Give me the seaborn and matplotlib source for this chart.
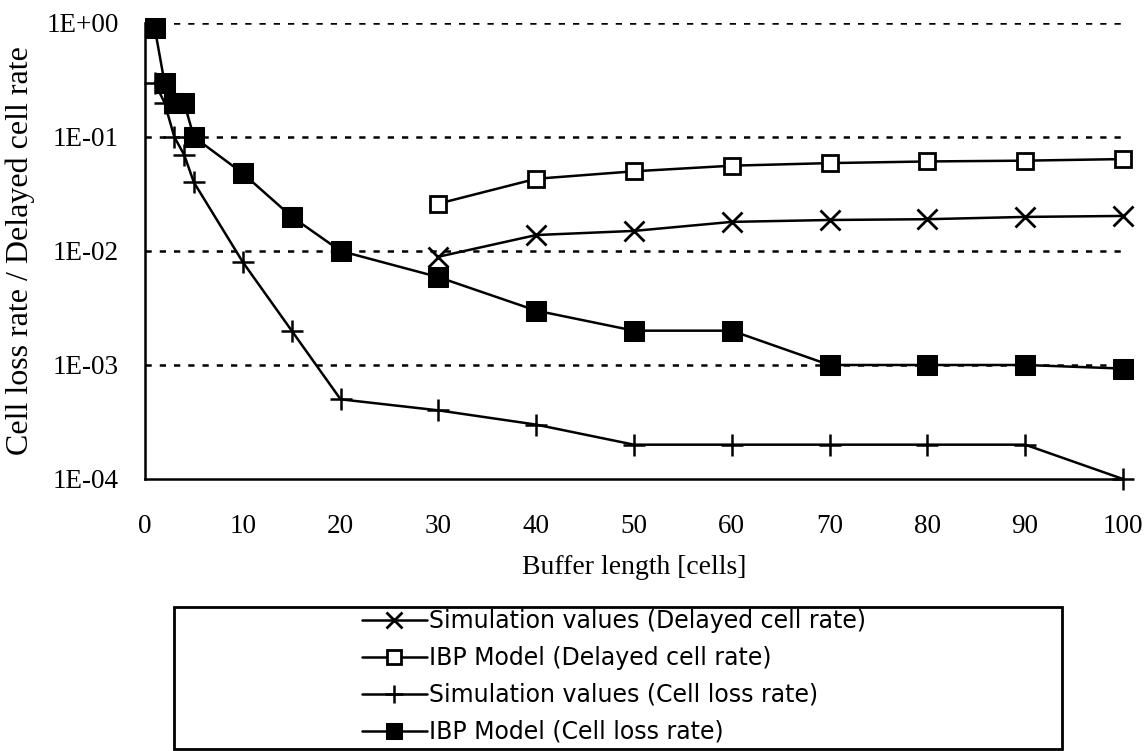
import numpy as np
import seaborn as sns
import matplotlib.pyplot as plt
from matplotlib.patches import Rectangle
from matplotlib.ticker import FixedLocator, FuncFormatter

# buffer lengths [cells]
x_small = [1, 2, 3, 4, 5, 10, 15, 20, 30, 40, 50, 60, 70, 80, 90, 100]
x_big = [30, 40, 50, 60, 70, 80, 90, 100]

sim_delayed = [0.0089, 0.0138, 0.015, 0.018, 0.0187, 0.019, 0.0199, 0.0203]
ibp_delayed = [0.026, 0.043, 0.05, 0.056, 0.059, 0.061, 0.062, 0.064]
x_sim_loss = [1, 2, 3, 4, 5, 10, 15, 20, 30, 40, 50, 60, 70, 80, 90, 100]
sim_loss = [0.3, 0.2, 0.1, 0.07, 0.04, 0.008, 0.002, 0.0005,
            0.0004, 0.0003, 0.0002, 0.0002, 0.0002, 0.0002, 0.0002, 0.0001]
ibp_loss = [0.9, 0.3, 0.2, 0.2, 0.1, 0.048, 0.02, 0.01,
            0.0059, 0.003, 0.002, 0.002, 0.001, 0.001, 0.001, 0.00093]

labels = ["Simulation values (Delayed cell rate)",
          "IBP Model (Delayed cell rate)",
          "Simulation values (Cell loss rate)",
          "IBP Model (Cell loss rate)"]
y_ticks = [1e-4, 1e-3, 1e-2, 1e-1, 1e0]
x_ticks = list(range(0, 101, 10))

sns.set_style("white")
plt.rcParams["font.family"] = ["Liberation Serif", "DejaVu Serif"]
plt.rcParams["text.color"] = "black"
plt.rcParams["axes.labelcolor"] = "black"

fig = plt.figure(figsize=(11.47, 7.51), dpi=100)
ax = fig.add_axes([0.1264, 0.3622, 0.8526, 0.6072])

common = dict(color="black", linewidth=1.8, clip_on=False, ax=ax, zorder=3,
              markeredgecolor="black")
sns.lineplot(x=x_big, y=sim_delayed, marker="x", markersize=14, markeredgewidth=2,
             label=labels[0], **common)
sns.lineplot(x=x_big, y=ibp_delayed, marker="s", markersize=12, markerfacecolor="white",
             markeredgewidth=2, label=labels[1], **common)
sns.lineplot(x=x_sim_loss, y=sim_loss, marker="+", markersize=16, markeredgewidth=1.8,
             label=labels[2], **common)
sns.lineplot(x=x_small, y=ibp_loss, marker="s", markersize=14, markerfacecolor="black",
             label=labels[3], **common)

ax.set_yscale("log")
ax.set_ylim(1e-4, 1)
ax.set_xlim(0, 100)
ax.yaxis.set_major_locator(FixedLocator(y_ticks))
ax.yaxis.set_minor_locator(FixedLocator([]))
ax.yaxis.set_major_formatter(FuncFormatter(lambda v, p: "1E%+03d" % int(round(np.log10(v)))))
ax.set_xticks(x_ticks)

for v in y_ticks[1:]:
    ax.axhline(v, color="black", linewidth=1.8, linestyle=(0, (2.5, 3.2)), zorder=1)

for s in ["top", "right"]:
    ax.spines[s].set_visible(False)
for s in ["left", "bottom"]:
    ax.spines[s].set_linewidth(1.8)
    ax.spines[s].set_color("black")
ax.tick_params(axis="both", width=1.8, labelsize=19.5, colors="black")
ax.tick_params(axis="y", direction="inout", length=12, pad=13)
ax.tick_params(axis="x", direction="out", length=8, pad=17)

ax.set_xlabel("Buffer length [cells]", fontsize=20, labelpad=12)
ax.set_ylabel("Cell loss rate / Delayed cell rate", fontsize=23, labelpad=8)

handles, labs = ax.get_legend_handles_labels()
ax.get_legend().remove()
fig.legend(handles, labs, loc="upper left", bbox_to_anchor=(0.3156, 0.1893),
           frameon=False, prop={"family": "DejaVu Sans", "size": 17},
           handlelength=2.75, handletextpad=0.1, labelspacing=0.55,
           borderpad=0, borderaxespad=0, markerscale=0.85)
fig.patches.append(Rectangle((174 / 1147, 0.003), (1062 - 174) / 1147, 1 - 607 / 751 - 0.003,
                             transform=fig.transFigure, fill=False,
                             edgecolor="black", linewidth=2))

fig.savefig("out.png", dpi=100)
